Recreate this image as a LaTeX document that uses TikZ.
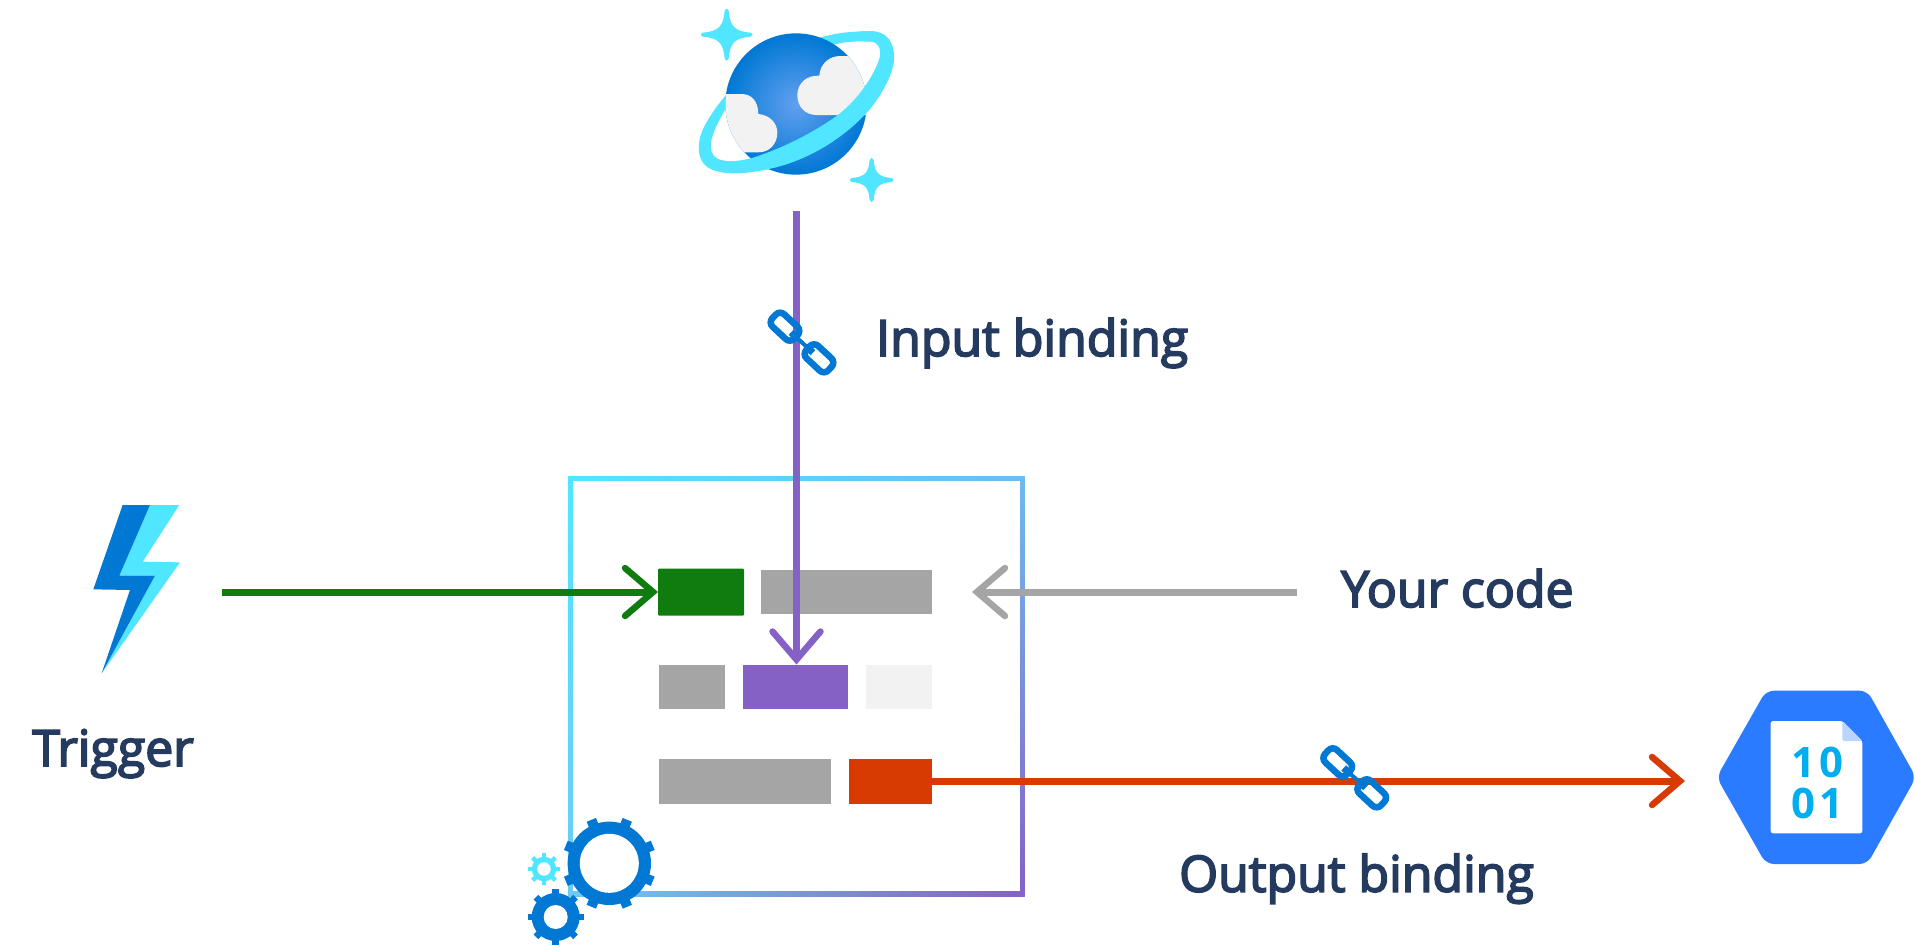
\documentclass[tikz,border=0pt]{standalone}
\usepackage{fontspec}
\usetikzlibrary{arrows.meta,calc}
\setmainfont{Open Sans}
\newfontfamily\labfont{Open Sans}[FakeBold=3.5]
\newfontfamily\digfont{Open Sans}[LetterSpace=10]
\definecolor{cblue}{HTML}{0078D4}
\definecolor{ccyan}{HTML}{50E6FF}
\definecolor{cgreen}{HTML}{107C10}
\definecolor{cgray}{HTML}{A5A5A5}
\definecolor{cpurple}{HTML}{8661C5}
\definecolor{cred}{HTML}{D83B01}
\definecolor{clight}{HTML}{F2F2F2}
\definecolor{ctext}{HTML}{243A5E}
\definecolor{cstore}{HTML}{2A7BFF}
\definecolor{cfold}{HTML}{B9D4FF}
\definecolor{cdigit}{HTML}{00ADEF}
\definecolor{cframeTR}{HTML}{6DBBEF}
\definecolor{cframeBL}{HTML}{6DCAF5}
\definecolor{cplanet}{HTML}{62A0F0}
\tikzset{
  codebar/.style={inner sep=0pt,outer sep=0pt,draw=none,rectangle},
  conn/.style={line width=7pt,-{Straight Barb[length=28pt,width=48pt,line width=6.5pt,line cap=round,line join=miter]}},
  lab/.style={inner sep=0pt,anchor=base west,text=ctext,font=\labfont\fontsize{50}{50}\selectfont},
  digit/.style={inner sep=0pt,text=cdigit,font=\digfont\bfseries\fontsize{42}{42}\selectfont},
  icon/.style={x=0.33333pt,y=-0.33333pt},
  link/.style={rectangle,rounded corners=6pt,draw=cblue,line width=6.5pt,minimum width=30pt,minimum height=17pt,inner sep=0pt,rotate=-43,outer sep=0pt},
}
\newcommand{\mychain}[5]{%
  \node[link] (#1a) at (#2,#3) {};
  \node[link] (#1b) at (#4,#5) {};
  \draw[cblue,line width=4pt] (#1a.east) -- (#1b.west);
  \draw[cblue,line width=7pt] ($(#1a.center)!0.55!(#1a.east)$) -- (#1a.east);
  \draw[cblue,line width=7pt] ($(#1b.center)!0.55!(#1b.west)$) -- (#1b.west);}
\newcommand{\mygear}[8]{%
  \begin{scope}[shift={(#1,#2)}]
    \foreach \a in {0,45,...,315}{\fill[#8,rotate=\a+#7] (#3-2,-#6/2) rectangle (#5,#6/2);}
    \fill[#8] (0,0) circle[radius=#3];
    \fill[white] (0,0) circle[radius=#4];
  \end{scope}}
\newcommand{\mysparkle}[3]{%
  \fill[ccyan,draw=ccyan,line width=4pt,line join=round]
    (#1,#2-#3) .. controls (#1+0.05*#3,#2-0.3*#3) and (#1+0.3*#3,#2-0.05*#3) ..
    (#1+#3,#2) .. controls (#1+0.3*#3,#2+0.05*#3) and (#1+0.05*#3,#2+0.3*#3) ..
    (#1,#2+#3) .. controls (#1-0.05*#3,#2+0.3*#3) and (#1-0.3*#3,#2+0.05*#3) ..
    (#1-#3,#2) .. controls (#1-0.3*#3,#2-0.05*#3) and (#1-0.05*#3,#2-0.3*#3) .. cycle;}
\newcommand{\myring}{%
  \fill[ccyan,even odd rule]
    (600,93) .. controls (650,93) and (672,125) .. (672,172)
    .. controls (672,232) and (612,314) .. (592,336)
    .. controls (525,410) and (410,490) .. (270,512)
    .. controls (200,524) and (140,522) .. (110,500)
    .. controls (80,475) and (80,430) .. (100,385)
    .. controls (120,345) and (145,312) .. (170,283)
    .. controls (250,180) and (400,115) .. (520,98)
    .. controls (550,95) and (580,93) .. (600,93) -- cycle
    (600,125) .. controls (625,125) and (633,145) .. (630,170)
    .. controls (615,228) and (560,300) .. (510,340)
    .. controls (440,393) and (340,445) .. (240,476)
    .. controls (190,488) and (135,490) .. (125,455)
    .. controls (115,425) and (135,380) .. (168,325)
    .. controls (250,220) and (400,150) .. (520,128)
    .. controls (560,122) and (585,125) .. (600,125) -- cycle;}
\begin{document}
\begin{tikzpicture}[x=1pt,y=-1pt]
\useasboundingbox (0,0) rectangle (1915,946);
\fill[white] (0,0) rectangle (1915,946);

% frame with gradient
\shade[left color=ccyan,right color=cframeTR] (570,476) rectangle (1024.5,480.5);
\shade[top color=ccyan,bottom color=cframeBL] (568,476) rectangle (572.5,896);
\shade[left color=cframeBL,right color=cpurple] (568,891.5) rectangle (1024.5,896);
\shade[top color=cframeTR,bottom color=cpurple] (1020,476) rectangle (1024.5,896);

% code bars
\node[codebar,fill=cgreen,minimum width=86pt,minimum height=47pt,rounded corners=1pt] (greenbar) at (701,592) {};
\node[codebar,fill=cgray,minimum width=171pt,minimum height=44pt] (graytop) at (846.5,591.5) {};
\node[codebar,fill=cgray,minimum width=66pt,minimum height=44pt] (graymid) at (692,686.5) {};
\node[codebar,fill=cpurple,minimum width=105pt,minimum height=44pt] (purplebar) at (795.5,686.5) {};
\node[codebar,fill=clight,minimum width=66pt,minimum height=44pt] (lightbar) at (899,686.5) {};
\node[codebar,fill=cgray,minimum width=172pt,minimum height=45pt] (graybot) at (745,781) {};
\node[codebar,fill=cred,minimum width=83pt,minimum height=45pt] (redbar) at (890.5,781) {};

% connector ends
\coordinate (trigsrc) at (222,592);
\coordinate (inputsrc) at (796.5,211);
\coordinate (codesrc) at (1297,592);
\coordinate (codetip) at (972,592);
\coordinate (outtip) at (1685,781);

\draw[conn,color=cgreen] (trigsrc) -- (greenbar.west);
\draw[conn,color=cpurple] (inputsrc) -- (inputsrc |- purplebar.north);
\draw[conn,color=cgray] (codesrc) -- (codetip);
\draw[conn,color=cred] (redbar.east) -- (outtip);

% chains
\mychain{linkin}{785}{326.7}{819}{358.3}
\mychain{linkout}{1337.7}{762.3}{1371.7}{793.3}

% cosmos icon
\begin{scope}[shift={(670,0)},icon]
  \mysparkle{170}{104}{72}
  \mysparkle{605}{540}{60}
  \myring
  \shade[inner color=cplanet,outer color=cblue] (378,312) circle[radius=212];
  \begin{scope}
    \clip (378,312) circle[radius=212];
    \fill[clight] (150,282) -- (215,282) .. controls (245,282) and (265,305) .. (265,342)
      .. controls (300,345) and (322,370) .. (322,398)
      .. controls (322,430) and (300,457) .. (265,457) -- (150,457) -- cycle;
    \fill[clight] (620,345) -- (440,345) .. controls (405,345) and (382,320) .. (382,285)
      .. controls (382,250) and (410,225) .. (448,227)
      .. controls (450,190) and (480,168) .. (510,168) -- (620,168) -- cycle;
  \end{scope}
  \begin{scope}
    \clip (150,440) -- (600,150) -- (720,150) -- (720,600) -- (150,600) -- cycle;
    \myring
  \end{scope}
\end{scope}

% lightning
\begin{scope}[shift={(70,490)},icon]
  \fill[ccyan] (240,45) -- (328,45) -- (218,215) -- (330,217) -- (95,550) -- (255,257) -- (148,257) -- cycle;
  \fill[cblue] (158,45) -- (240,45) -- (148,257) -- (255,257) -- (95,550) -- (180,300) -- (70,298) -- cycle;
\end{scope}

% storage
\begin{scope}[shift={(1700,670)},icon]
  \fill[cstore,rounded corners=8pt] (198,62) -- (502,62) -- (648,322) -- (502,582) -- (198,582) -- (50,322) -- cycle;
  \fill[white,rounded corners=2.5pt] (212,153) -- (427,153) -- (487,213) -- (487,490) -- (212,490) -- cycle;
  \fill[cfold,rounded corners=1.5pt] (427,153) -- (487,213) -- (427,213) -- cycle;
  \node[digit] (bits1) at (352,278) {10};
  \node[digit] (bits2) at (352,400) {01};
\end{scope}

% gears
\mygear{609.3}{863.3}{41.7}{29.5}{47}{10}{22.5}{cblue}
\mygear{544}{869}{12.3}{6.7}{16}{4.5}{0}{ccyan}
\mygear{555.7}{917}{24}{12}{28}{6.5}{0}{cblue}

% labels
\node[lab] (inlab) at (876,356) {Input binding};
\node[lab] (codelab) at (1341,607) {Your code};
\node[lab] (triglab) at (32,766) {Trigger};
\node[lab] (outlab) at (1179,891.7) {Output binding};
\end{tikzpicture}
\end{document}
